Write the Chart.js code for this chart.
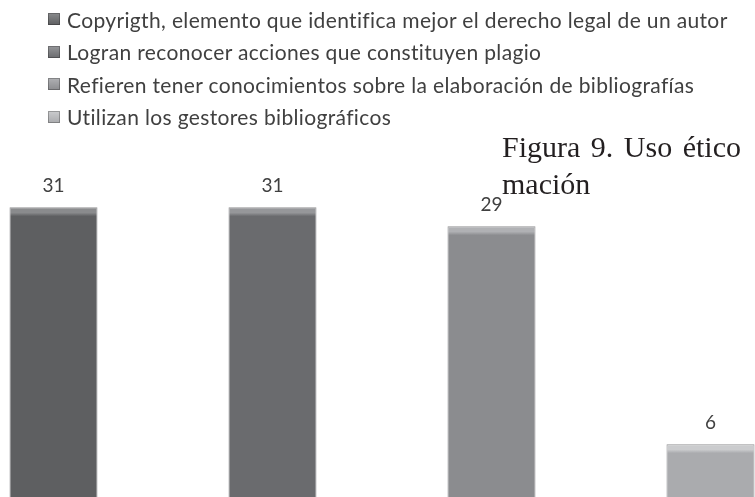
<!DOCTYPE html>
<html>
<head>
<meta charset="utf-8">
<script src="https://cdn.jsdelivr.net/npm/chart.js@4/dist/chart.umd.min.js"></script>
<style>
  html, body { margin: 0; padding: 0; background: #fff; overflow: hidden; }
  body { width: 755px; height: 497px; position: relative; }
  #wrap { position: absolute; left: -56px; top: 0; width: 876px; height: 501px; }
  #legend { position: absolute; left: 48px; top: 3px; margin: 0; padding: 0; list-style: none;
            font-family: Lato, sans-serif; font-size: 21px; letter-spacing: 0.35px;
            font-variant-ligatures: none; color: #404040; }
  #legend li { height: 32.5px; display: flex; align-items: center; white-space: nowrap; }
  #legend .box { width: 12px; height: 12px; margin-right: 7px; flex: none;
                 box-shadow: inset 0 0 0 1px rgba(0,0,0,0.25); }
  .fig { position: absolute; left: 502px; font-family: 'Liberation Serif', serif; font-size: 30px;
         line-height: 30px; color: #231f20; white-space: nowrap; word-spacing: 3px; }
</style>
</head>
<body>
<div id="wrap"><canvas id="myChart"></canvas></div>
<ul id="legend"></ul>
<div class="fig" style="top:132px">Figura 9. Uso ético</div>
<div class="fig" style="top:169px">mación</div>
<script>
const categories = [''];
const seriesLabels = [
  'Copyrigth, elemento que identifica mejor el derecho legal de un autor',
  'Logran reconocer acciones que constituyen plagio',
  'Refieren tener conocimientos sobre la elaboración de bibliografías',
  'Utilizan los gestores bibliográficos'
];
const seriesValues = [31, 31, 29, 6];
const seriesColors = ['#5e5f61', '#6a6b6e', '#8b8c8f', '#aaabae'];
const seriesTops = ['#8a8b8d', '#96979a', '#b0b1b4', '#cbccce'];

// bars with a lighter bevel strip on top
function barFill(i) {
  return c => {
    const chart = c.chart;
    if (!chart.chartArea || !c.parsed) return seriesColors[i];
    const top = chart.scales.y.getPixelForValue(c.parsed.y);
    const g = chart.ctx.createLinearGradient(0, top, 0, top + 9);
    g.addColorStop(0, seriesTops[i]);
    g.addColorStop(0.6, seriesTops[i]);
    g.addColorStop(1, seriesColors[i]);
    return g;
  };
}

const valueLabels = {
  id: 'valueLabels',
  afterDatasetsDraw(chart) {
    const ctx = chart.ctx;
    ctx.save();
    ctx.font = '19px Lato';
    ctx.fillStyle = '#404040';
    ctx.textAlign = 'center';
    ctx.textBaseline = 'middle';
    chart.data.datasets.forEach((ds, i) => {
      chart.getDatasetMeta(i).data.forEach((bar, j) => {
        ctx.fillText(ds.data[j], bar.x, bar.y - 21);
      });
    });
    ctx.restore();
  }
};

const ctx = document.getElementById('myChart');
const myChart = new Chart(ctx, {
  type: 'bar',
  data: {
    labels: categories,
    datasets: seriesLabels.map((label, i) => ({
      label: label,
      data: [seriesValues[i]],
      backgroundColor: barFill(i),
      borderColor: 'rgba(60,60,62,0.55)',
      borderWidth: 1,
      barPercentage: 0.402,
      categoryPercentage: 1
    }))
  },
  options: {
    responsive: true,
    maintainAspectRatio: false,
    animation: false,
    layout: { padding: { top: 122, bottom: 0, left: 0, right: 0 } },
    scales: {
      x: { display: false },
      y: { display: false, min: 0, max: 40 }
    },
    plugins: {
      legend: { display: false },
      tooltip: { enabled: false }
    }
  },
  plugins: [valueLabels]
});

// legend list
const legendEl = document.getElementById('legend');
myChart.data.datasets.forEach((ds, i) => {
  const li = document.createElement('li');
  const box = document.createElement('span');
  box.className = 'box';
  box.style.background = 'linear-gradient(' + seriesTops[i] + ',' + seriesColors[i] + ')';
  li.appendChild(box);
  li.appendChild(document.createTextNode(ds.label));
  legendEl.appendChild(li);
});
</script>
</body>
</html>
